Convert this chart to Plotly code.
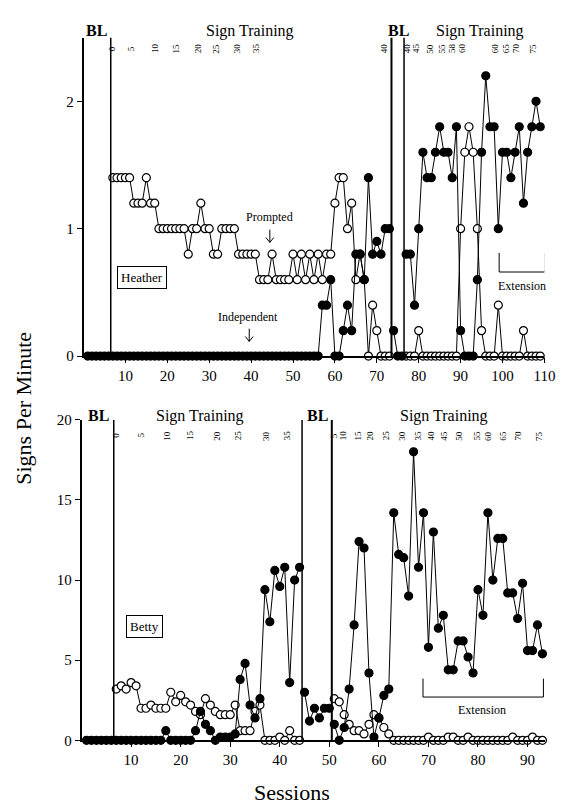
import plotly.graph_objects as go

# ---------------- DATA ----------------
heather_sessions = list(range(1, 110))
heather_independent = (
    [0]*6 + [0]*50 +
    [0.4, 0.4, 0.6, 0, 0, 0.2, 0.4, 0.2, 0.8, 0.8, 0.6, 1.4, 0.8, 0.9, 0.8, 1.0, 1.0,   # 57-73
     0.2, 0, 0,                                                                     # 74-76
     0.8, 0.8, 0.4, 1.0, 1.6, 1.4, 1.4, 1.6, 1.8, 1.6, 1.6, 1.4, 1.8, 0.2, 0, 0, 0,  # 77-93
     0.6, 1.6, 2.2, 1.8, 1.8, 1.0, 1.6, 1.6, 1.4, 1.6, 1.8, 1.2, 1.6, 1.8, 2.0, 1.8] # 94-109
)
heather_prompted = (
    [None]*6 +
    [1.4]*5 + [1.2]*3 + [1.4] + [1.2]*2 + [1.0]*7 + [0.8] + [1.0]*2 + [1.2] + [1.0]*2 +
    [0.8]*2 + [1.0]*4 + [0.8]*5 + [0.6]*3 + [0.8] + [0.6]*4 +
    [0.8, 0.6, 0.8, 0.6, 0.8, 0.6, 0.8, 0.6, 0.8, 0.8,          # 50-59
     1.2, 1.4, 1.4, 1.0, 1.2, 0.6, 0.8, 0.6, 0, 0.4, 0.2, 0, 0, 0] +  # 60-73
    [None]*3 +                                                   # 74-76
    [0, 0, 0, 0.2] + [0]*9 +                                     # 77-89
    [1.0, 1.6, 1.8, 1.6, 1.0, 0.2, 0, 0, 0, 0.4, 0, 0, 0, 0, 0, 0.2, 0, 0, 0, 0]  # 90-109
)
heather_phase_lines = [6.5, 73.5, 76.5]

betty_sessions = list(range(1, 94))
betty_independent = (
    [0]*16 + [0.6] + [0]*5 +
    [0.6, 1.8, 1.0, 0.6, 0, 0.2, 0.2, 0.2, 0.4, 3.8, 4.8, 2.2, 1.4, 2.6,      # 23-36
     9.4, 7.4, 10.6, 9.6, 10.8, 3.6, 10.0, 10.8,                              # 37-44
     3.0, 1.2, 2.0, 1.4, 2.0, 2.0,                                            # 45-50
     1.0, 0, 0.8, 3.2, 7.2, 12.4, 12.0, 4.2, 0.2, 1.4, 2.8, 3.2,              # 51-62
     14.2, 11.6, 11.4, 9.0, 18.0, 10.8, 14.2, 5.8, 13.0, 7.0, 7.8, 4.4, 4.4,   # 63-75
     6.2, 6.2, 5.2, 4.2, 9.4, 7.8, 14.2, 10.0, 12.6, 12.6, 9.2, 9.2, 7.6,      # 76-88
     9.8, 5.6, 5.6, 7.2, 5.4]                                                 # 89-93
)
betty_prompted = (
    [None]*6 +
    [3.2, 3.4, 3.2, 3.6, 3.4, 2.0, 2.0, 2.2, 2.0, 2.0, 2.0, 3.0, 2.4, 2.8, 2.4,  # 7-21
     2.2, 1.8, 1.6, 2.6, 2.2, 1.8, 1.6, 1.6, 1.6, 2.2, 0.6, 0.6, 0.6, 1.8, 2.2,  # 22-36
     0, 0, 0, 0.2, 0, 0.6, 0, 0] +                                              # 37-44
    [None]*6 +                                                                  # 45-50
    [2.6, 2.4, 1.6, 1.0, 0.6, 0.6, 0.4, 1.0, 1.6, 1.4, 0.8, 0.4,                # 51-62
     0, 0, 0, 0, 0, 0, 0, 0.2, 0, 0, 0, 0.2, 0.2, 0, 0, 0.2,                     # 63-78
     0, 0, 0, 0, 0, 0, 0, 0, 0.2, 0, 0, 0, 0.2, 0, 0]                            # 79-93
)
betty_phase_lines = [6.5, 44.5, 50.5]

heather_training_labels = ["0", "5", "10", "15", "20", "25", "30", "35", "40",
                           "40", "45", "50", "55", "58", "60", "60", "65", "70", "75"]
heather_training_pos = [7, 11.3, 17.2, 22.1, 27.3, 31.7, 36.6, 41.3, 71.7,
                        77.4, 79.5, 82.8, 85.6, 88.1, 90.5, 98.4, 100.8, 103.4, 107.3]
betty_training_labels = ["0", "5", "10", "15", "20", "25", "30", "35",
                         "5", "10", "15", "20", "25", "30", "35", "40", "45", "50",
                         "55", "60", "65", "70", "75"]
betty_training_pos = [7, 12, 17.3, 22, 27.4, 31.7, 37.3, 41.6,
                      51.1, 52.9, 55.8, 58.4, 61.6, 64.7, 67.9, 70.7, 73.2, 76.2,
                      79.8, 82.1, 85.1, 88.1, 92.4]

# ---------------- FIGURE ----------------
W, H = 568, 805
FONT = "Liberation Serif"

def px(x):
    return x / W

def py(y):
    return 1 - y / H

fig = go.Figure()


def add_series(sessions, values, phases, xa, ya, filled):
    bounds = [-1e9] + phases + [1e9]
    for i in range(len(bounds) - 1):
        xs, ys = [], []
        for s, v in zip(sessions, values):
            if bounds[i] < s < bounds[i + 1] and v is not None:
                xs.append(s)
                ys.append(v)
        if not xs:
            continue
        fig.add_trace(go.Scatter(
            x=xs, y=ys, xaxis=xa, yaxis=ya, mode="lines+markers",
            line=dict(color="black", width=1),
            marker=dict(size=8, symbol="circle",
                        color="black" if filled else "white",
                        line=dict(color="black", width=1.2)),
            cliponaxis=False, showlegend=False, hoverinfo="skip"))


# open (prompted) first, filled (independent) on top
add_series(heather_sessions, heather_prompted, heather_phase_lines, "x", "y", False)
add_series(heather_sessions, heather_independent, heather_phase_lines, "x", "y", True)
add_series(betty_sessions, betty_prompted, betty_phase_lines, "x2", "y2", False)
add_series(betty_sessions, betty_independent, betty_phase_lines, "x2", "y2", True)

shapes = []
for x in heather_phase_lines:
    shapes.append(dict(type="line", xref="x", yref="y", x0=x, x1=x, y0=0, y1=2.5,
                       line=dict(color="black", width=1.5 if x != 73.5 else 2)))
for x in betty_phase_lines:
    shapes.append(dict(type="line", xref="x2", yref="y2", x0=x, x1=x, y0=0, y1=20,
                       line=dict(color="black", width=1.5 if x != 50.5 else 2)))

# Extension brackets
shapes += [
    dict(type="line", xref="x", yref="y", x0=99.2, x1=110.2, y0=0.66, y1=0.66, line=dict(color="black", width=1)),
    dict(type="line", xref="x", yref="y", x0=99.2, x1=99.2, y0=0.66, y1=0.81, line=dict(color="black", width=1)),
    dict(type="line", xref="x", yref="y", x0=110.2, x1=110.2, y0=0.66, y1=0.81, line=dict(color="black", width=1)),
    dict(type="line", xref="x2", yref="y2", x0=68.9, x1=93.2, y0=2.7, y1=2.7, line=dict(color="black", width=1)),
    dict(type="line", xref="x2", yref="y2", x0=68.9, x1=68.9, y0=2.7, y1=3.85, line=dict(color="black", width=1)),
    dict(type="line", xref="x2", yref="y2", x0=93.2, x1=93.2, y0=2.7, y1=3.85, line=dict(color="black", width=1)),
]

ann = []
def text(x, y, t, size=16, **kw):
    ann.append(dict(x=px(x), y=py(y), xref="paper", yref="paper", text=t,
                    xanchor="center", yanchor="middle",
                    showarrow=False, font=dict(family=FONT, size=size, color="black"), **kw))

# phase titles
text(90, 15, "<b>BL</b>", 16)
text(247, 15, "Sign Training", 16)
text(398, 15, "<b>BL</b>", 16)
text(481, 15, "Sign Training", 16)
text(92, 408, "<b>BL</b>", 16)
text(196, 408, "Sign Training", 16)
text(316, 408, "<b>BL</b>", 16)
text(445, 408, "Sign Training", 16)

# rotated training session numbers
for lab, pos in zip(heather_training_labels, heather_training_pos):
    ann.append(dict(x=pos, y=py(33), xref="x", yref="paper", text=lab, textangle=-90,
                    xanchor="center", yanchor="middle",
                    showarrow=False, font=dict(family=FONT, size=9, color="black")))
for lab, pos in zip(betty_training_labels, betty_training_pos):
    ann.append(dict(x=pos, y=py(428), xref="x2", yref="paper", text=lab, textangle=-90,
                    xanchor="center", yanchor="middle",
                    showarrow=False, font=dict(family=FONT, size=9, color="black")))

# participant boxes
text(137, 267, "Heather", 13, bordercolor="black", borderwidth=1, borderpad=3, bgcolor="white")
text(139, 623, "Betty", 13, bordercolor="black", borderwidth=1, borderpad=3, bgcolor="white")

# Prompted / Independent
text(267, 205, "Prompted", 12)
text(245, 307, "Independent", 12)
for (ax_, ay_) in [(267, 231), (246, 332)]:
    shapes.append(dict(type="line", xref="paper", yref="paper", x0=px(ax_), y0=py(ay_ - 13),
                       x1=px(ax_), y1=py(ay_), line=dict(color="black", width=1)))
    shapes.append(dict(type="line", xref="paper", yref="paper", x0=px(ax_ - 4), y0=py(ay_ - 5),
                       x1=px(ax_), y1=py(ay_), line=dict(color="black", width=1)))
    shapes.append(dict(type="line", xref="paper", yref="paper", x0=px(ax_ + 4), y0=py(ay_ - 5),
                       x1=px(ax_), y1=py(ay_), line=dict(color="black", width=1)))

text(524, 275, "Extension", 12)
text(483, 708, "Extension", 12)

# axis titles
text(15, 400, "Signs Per Minute", 22, textangle=-90)
text(290, 792, "Sessions", 22)

axis_common = dict(showline=True, linecolor="black", linewidth=1.5, ticks="outside",
                   ticklen=5, tickwidth=1, tickcolor="black", showgrid=False,
                   zeroline=False, tickfont=dict(family=FONT, size=15, color="black"))

fig.update_layout(
    width=W, height=H, autosize=False,
    margin=dict(l=0, r=0, t=0, b=0),
    paper_bgcolor="white", plot_bgcolor="white",
    xaxis=dict(domain=[px(77), px(547)], range=[0, 110], anchor="y",
               tickvals=[10, 20, 30, 40, 50, 60, 70, 80, 90, 100, 110], **axis_common),
    yaxis=dict(domain=[py(347), py(22)], range=[0, 2.5], anchor="x",
               tickvals=[0, 1, 2], **axis_common),
    xaxis2=dict(domain=[px(75), px(548)], range=[0, 93.6], anchor="y2",
                tickvals=[10, 20, 30, 40, 50, 60, 70, 80, 90], **axis_common),
    yaxis2=dict(domain=[py(739), py(412)], range=[0, 20], anchor="x2",
                tickvals=[0, 5, 10, 15, 20], **axis_common),
    shapes=shapes, annotations=ann,
)

fig.write_html("out.html")
